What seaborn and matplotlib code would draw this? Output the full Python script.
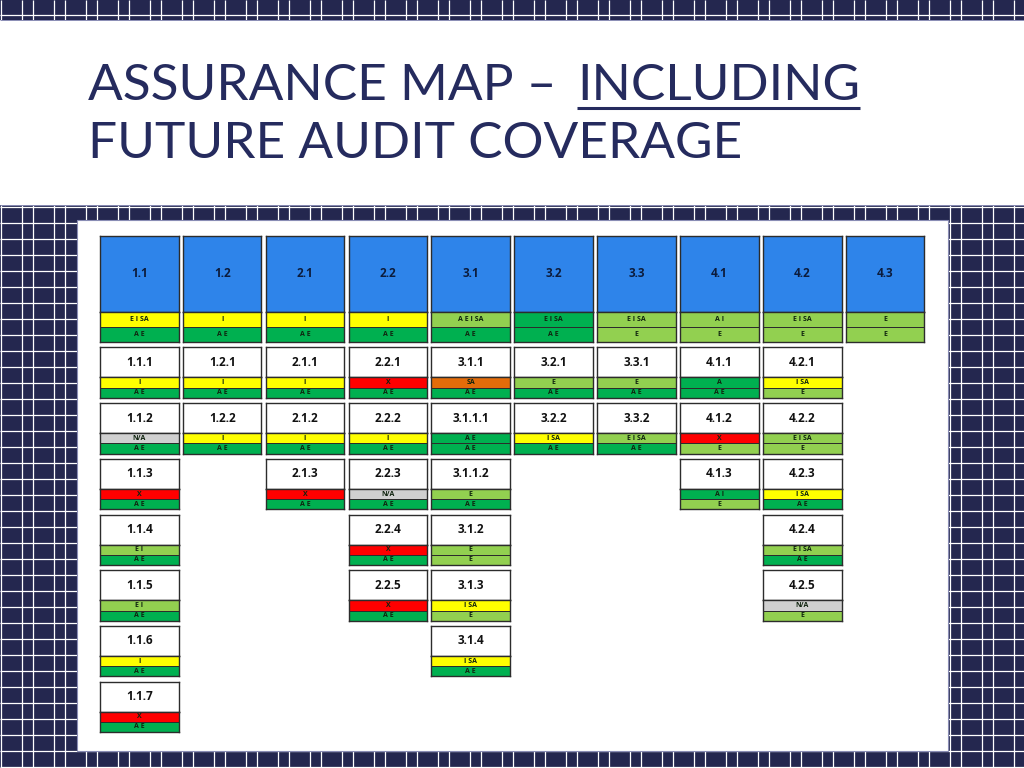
import numpy as np
import matplotlib
matplotlib.use("Agg")
import matplotlib.pyplot as plt
from matplotlib.colors import ListedColormap
from matplotlib.patches import Rectangle
import seaborn as sns

sns.set_style("white")
plt.rcParams["font.family"] = ["Lato", "DejaVu Sans"]

W, H = 1024, 768

# colour keys for the rating strips
y, g, l, r, n, o = 0, 1, 2, 3, 4, 5
strip_colors = ["#ffff00", "#00b050", "#92d050", "#ff0000", "#d0d0d0", "#e36c0a"]
strip_cmap = ListedColormap(strip_colors)

# top row
top_labels = ["1.1", "1.2", "2.1", "2.2", "3.1", "3.2", "3.3", "4.1", "4.2", "4.3"]
top_status = ["E I SA", "I", "I", "I", "A E I SA", "E I SA", "E I SA", "A I", "E I SA", "E"]
top_status_col = [y, y, y, y, l, g, l, l, l, l]
top_cover = ["A E", "A E", "A E", "A E", "A E", "A E", "E", "E", "E", "E"]

# sub-items, one list per column
col_labels = [
    ["1.1.1", "1.1.2", "1.1.3", "1.1.4", "1.1.5", "1.1.6", "1.1.7"],
    ["1.2.1", "1.2.2"],
    ["2.1.1", "2.1.2", "2.1.3"],
    ["2.2.1", "2.2.2", "2.2.3", "2.2.4", "2.2.5"],
    ["3.1.1", "3.1.1.1", "3.1.1.2", "3.1.2", "3.1.3", "3.1.4"],
    ["3.2.1", "3.2.2"],
    ["3.3.1", "3.3.2"],
    ["4.1.1", "4.1.2", "4.1.3"],
    ["4.2.1", "4.2.2", "4.2.3", "4.2.4", "4.2.5"],
]
col_status = [
    ["I", "N/A", "X", "E I", "E I", "I", "X"],
    ["I", "I"],
    ["I", "I", "X"],
    ["X", "I", "N/A", "X", "X"],
    ["SA", "A E", "E", "E", "I SA", "I SA"],
    ["E", "I SA"],
    ["E", "E I SA"],
    ["A", "X", "A I"],
    ["I SA", "E I SA", "I SA", "E I SA", "N/A"],
]
col_status_col = [
    [y, n, r, l, l, y, r],
    [y, y],
    [y, y, r],
    [r, y, n, r, r],
    [o, g, l, l, y, y],
    [l, y],
    [l, l],
    [g, r, g],
    [y, l, y, l, n],
]
col_cover = [
    ["A E"] * 7,
    ["A E"] * 2,
    ["A E"] * 3,
    ["A E"] * 5,
    ["A E", "A E", "A E", "E", "E", "A E"],
    ["A E"] * 2,
    ["A E"] * 2,
    ["A E", "E", "E"],
    ["E", "E", "A E", "A E", "E"],
]

title_line1 = "ASSURANCE MAP \u2013 "
title_word = "INCLUDING"
title_line2 = "FUTURE AUDIT COVERAGE"

navy = "#24274f"
title_col = "#252b5e"
blue = "#2e84ea"
frame = "#2c2c2c"

# layout in pixels
col_x0, col_pitch, tile_w = 100, 82.87, 78.6
top_y, top_head, top_strip = 235.5, 76.5, 15.2
row_y0, row_pitch, row_head, row_strip = 347.5, 55.7, 30, 10.2


def px_axes(x, yy, w, h):
    return fig.add_axes([x / W, 1 - (yy + h) / H, w / W, h / H])


def strips(x, yy, h, status, status_col, cover, size):
    ax = px_axes(x, yy, tile_w, h)
    vals = np.array([[status_col], [l if cover == "E" else g]])
    text = np.array([[status], [cover]])
    sns.heatmap(vals, cmap=strip_cmap, vmin=-0.5, vmax=5.5, cbar=False,
                annot=text, fmt="", linewidths=0.6, linecolor=frame,
                xticklabels=False, yticklabels=False, ax=ax,
                annot_kws={"fontsize": size, "color": "#10240f", "fontweight": "bold",
                           "family": "Open Sans"})
    for s in ax.spines.values():
        s.set_visible(True)
        s.set_color(frame)
        s.set_linewidth(1.0)


def head(x, yy, h, label, face, txt_col, size):
    ax = px_axes(x, yy, tile_w, h)
    ax.set_xticks([])
    ax.set_yticks([])
    ax.set_facecolor(face)
    ax.text(0.5, 0.5, label, transform=ax.transAxes, ha="center", va="center",
            fontsize=size, fontweight="bold", color=txt_col, family="Open Sans")
    for s in ax.spines.values():
        s.set_color(frame)
        s.set_linewidth(1.0)


fig = plt.figure(figsize=(W / 100, H / 100), dpi=100, facecolor=navy)

# page background
bg = fig.add_axes([0, 0, 1, 1])
bg.set_xlim(0, W)
bg.set_ylim(H, 0)
bg.axis("off")
bg.vlines(np.arange(0, W, 32) + 0.5, 0, H, color="white", lw=0.9)
bg.vlines(np.arange(21, W, 32) + 0.5, 0, H, color="white", lw=0.9)
bg.hlines(np.arange(14, H, 16) + 0.5, 0, W, color="white", lw=0.9)
bg.add_patch(Rectangle((0, 20), W, 185, fc="white", ec="none", zorder=3))
bg.hlines([20, 205], 0, W, color="#8a8db5", lw=0.7, zorder=4)
bg.vlines(W - 0.5, 20, 205, color="#8a8db5", lw=0.7, zorder=4)
bg.add_patch(Rectangle((77, 220), 871, 531, fc="white", ec="#8a8db5", lw=0.8, zorder=3))

# title
bg.text(88, 86, title_line1, fontsize=37, color=title_col, va="center", ha="left", zorder=5)
fig.canvas.draw()
x_word = 577
t2 = bg.text(x_word, 86, title_word, fontsize=37, color=title_col, va="center", ha="left", zorder=5)
bb = t2.get_window_extent()
bg.hlines(108, x_word, bb.x1, color=title_col, lw=2.2, zorder=5)
bg.text(88, 144, title_line2, fontsize=37, color=title_col, va="center", ha="left", zorder=5)

# top row tiles
for i, label in enumerate(top_labels):
    x = col_x0 + i * col_pitch
    head(x, top_y, top_head, label, blue, "#0c1c3c", 8.5)
    strips(x, top_y + top_head, 2 * top_strip, top_status[i], top_status_col[i], top_cover[i], 5)

# sub-item tiles
for i, labels in enumerate(col_labels):
    x = col_x0 + i * col_pitch
    for j, label in enumerate(labels):
        yy = row_y0 + j * row_pitch
        head(x, yy, row_head, label, "white", "#111111", 8.5)
        strips(x, yy + row_head, 2 * row_strip, col_status[i][j], col_status_col[i][j], col_cover[i][j], 5)

fig.savefig("out.png", dpi=100, facecolor=navy)
